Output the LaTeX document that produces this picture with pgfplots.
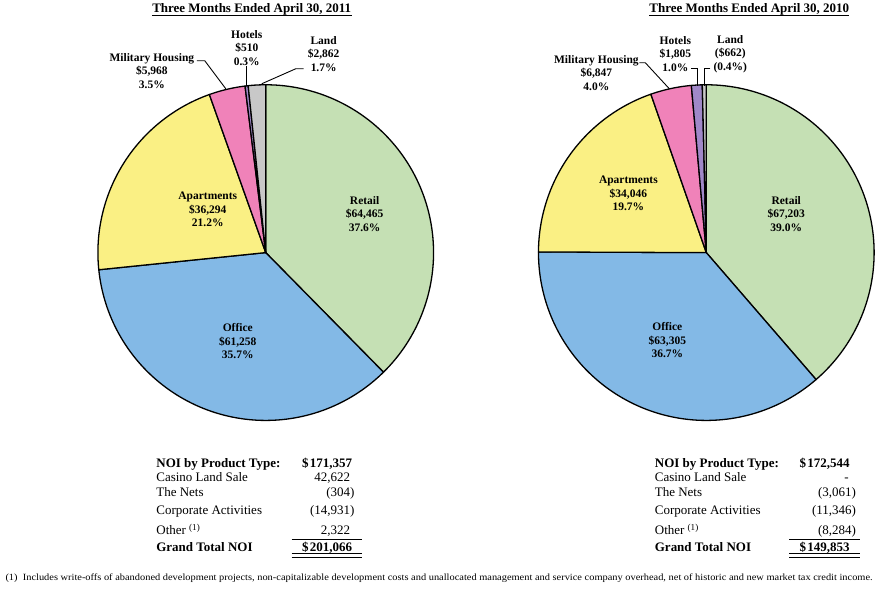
\documentclass[border=0pt]{standalone}
\usepackage{pgfplots}
\pgfplotsset{compat=1.18}
\usepackage{fontspec}
\setmainfont{Liberation Serif}
\usepackage{graphicx}

\definecolor{cRetail}{RGB}{197,224,180}
\definecolor{cOffice}{RGB}{131,185,230}
\definecolor{cApt}{RGB}{250,240,132}
\definecolor{cMil}{RGB}{240,130,185}
\definecolor{cHot}{RGB}{160,136,200}
\definecolor{cLand}{RGB}{200,200,200}

% NOI by product type, three months ended April 30, 2011
\def\LA{64465}\def\LB{61258}\def\LC{36294}\def\LD{5968}\def\LE{510}\def\LF{2862}
% NOI by product type, three months ended April 30, 2010 (Land -662 shown by magnitude)
\def\RA{67203}\def\RB{63305}\def\RC{34046}\def\RD{6847}\def\RE{1805}\def\RF{662}

\edef\LT{\fpeval{\LA+\LB+\LC+\LD+\LE+\LF}}
\edef\RT{\fpeval{\RA+\RB+\RC+\RD+\RE+\RF}}
\edef\La{\fpeval{round(90-360*\LA/\LT,3)}}
\edef\Lb{\fpeval{round(\La-360*\LB/\LT,3)}}
\edef\Lc{\fpeval{round(\Lb-360*\LC/\LT,3)}}
\edef\Ld{\fpeval{round(\Lc-360*\LD/\LT,3)}}
\edef\Le{\fpeval{round(\Ld-360*\LE/\LT,3)}}
\edef\Ra{\fpeval{round(90-360*\RA/\RT,3)}}
\edef\Rb{\fpeval{round(\Ra-360*\RB/\RT,3)}}
\edef\Rc{\fpeval{round(\Rb-360*\RC/\RT,3)}}
\edef\Rd{\fpeval{round(\Rc-360*\RD/\RT,3)}}
\edef\Re{\fpeval{round(\Rd-360*\RE/\RT,3)}}

% #1 centre x, #2 start angle, #3 end angle (smaller), #4 colour
\newcommand{\slice}[4]{%
  \addplot[draw=black, line width=1.3pt, line join=round, fill=#4,
    domain=#3:#2, samples=90, variable=\t]
    ({#1+168*cos(\t)},{250-168*sin(\t)}) -- (axis cs:#1,250) -- cycle;
}

\begin{document}
\begin{tikzpicture}
\begin{axis}[
  x=1pt, y=1pt, xmin=0, xmax=876, ymin=0, ymax=586, y dir=reverse,
  hide axis, clip=false, scale only axis,
  every node/.append style={inner sep=0pt, outer sep=0pt},
]
\addplot[draw=none] coordinates {(0,0) (876,586)};

% ---- left pie (2011)
\slice{266}{90}{\La}{cRetail}
\slice{266}{\La}{\Lb}{cOffice}
\slice{266}{\Lb}{\Lc}{cApt}
\slice{266}{\Lc}{\Ld}{cMil}
\slice{266}{\Ld}{\Le}{cHot}
\slice{266}{\Le}{-270}{cLand}
% ---- right pie (2010)
\slice{707}{90}{\Ra}{cRetail}
\slice{707}{\Ra}{\Rb}{cOffice}
\slice{707}{\Rb}{\Rc}{cApt}
\slice{707}{\Rc}{\Rd}{cMil}
\slice{707}{\Rd}{\Re}{cHot}
\slice{707}{\Re}{-270}{cLand}

% leader lines
\addplot[black, line width=0.9pt] coordinates {(197,58) (205,58) (226,86)};
\addplot[black, line width=0.9pt] coordinates {(247,63) (247,83)};
\addplot[black, line width=0.9pt] coordinates {(304,66) (296,66) (262,81)};
\addplot[black, line width=0.9pt] coordinates {(640,60) (646,60) (670,86)};
\addplot[black, line width=0.9pt] coordinates {(692,66) (698,66) (698,83)};
\addplot[black, line width=0.9pt] coordinates {(711,66) (705,66) (705,83)};

% titles
\node[font=\bfseries\fontsize{13}{15}\selectfont, anchor=base] at (axis cs:252,9.5) {Three Months Ended April 30, 2011};
\node[font=\bfseries\fontsize{13}{15}\selectfont, anchor=base] at (axis cs:750,9.5) {Three Months Ended April 30, 2010};
\draw[line width=1.2pt] (axis cs:152,12.5) -- (axis cs:352,12.5);
\draw[line width=1.2pt] (axis cs:650,12.5) -- (axis cs:850,12.5);

% slice labels
\tikzset{lab/.style={align=center, font=\bfseries\fontsize{11.5}{13.5}\selectfont}}
\node[lab] at (axis cs:365,211) {Retail\\\$64,465\\37.6\%};
\node[lab] at (axis cs:238,339) {Office\\\$61,258\\35.7\%};
\node[lab] at (axis cs:208,207) {Apartments\\\$36,294\\21.2\%};
\node[lab] at (axis cs:152,68) {Military Housing\\\$5,968\\3.5\%};
\node[lab] at (axis cs:247,45) {Hotels\\\$510\\0.3\%};
\node[lab] at (axis cs:324,51) {Land\\\$2,862\\1.7\%};

\node[lab] at (axis cs:787,211) {Retail\\\$67,203\\39.0\%};
\node[lab] at (axis cs:668,338) {Office\\\$63,305\\36.7\%};
\node[lab] at (axis cs:629,191) {Apartments\\\$34,046\\19.7\%};
\node[lab] at (axis cs:597,70) {Military Housing\\\$6,847\\4.0\%};
\node[lab] at (axis cs:676,51) {Hotels\\\$1,805\\1.0\%};
\node[lab] at (axis cs:731,51) {Land\\(\$662)\\(0.4\%)};

% tables
\tikzset{tb/.style={font=\fontsize{13}{15}\selectfont}, tbb/.style={font=\bfseries\fontsize{13}{15}\selectfont}}
% left
\node[tbb, anchor=base west] at (axis cs:153,465.5) {NOI by Product Type:};
\node[tb, anchor=base west] at (axis cs:153,479.5) {Casino Land Sale};
\node[tb, anchor=base west] at (axis cs:153,494.5) {The Nets};
\node[tb, anchor=base west] at (axis cs:153,512.5) {Corporate Activities};
\node[tb, anchor=base west] at (axis cs:153,532.5) {Other \textsuperscript{(1)}};
\node[tbb, anchor=base west] at (axis cs:153,549.5) {Grand Total NOI};
\node[tbb, anchor=base west] at (axis cs:299,465.5) {\$};
\node[tbb, anchor=base east] at (axis cs:356,465.5) {171,357};
\node[tb, anchor=base east] at (axis cs:354,479.5) {42,622};
\node[tb, anchor=base east] at (axis cs:354,494.5) {(304\rlap{)}};
\node[tb, anchor=base east] at (axis cs:354,512.5) {(14,931\rlap{)}};
\node[tb, anchor=base east] at (axis cs:354,532.5) {2,322};
\node[tbb, anchor=base west] at (axis cs:299,549.5) {\$};
\node[tbb, anchor=base east] at (axis cs:356,549.5) {201,066};
\draw[line width=1.3pt] (axis cs:292,537) -- (axis cs:362,537);
\draw[line width=1.3pt] (axis cs:292,551.5) -- (axis cs:362,551.5);
\draw[line width=1.3pt] (axis cs:292,555.5) -- (axis cs:362,555.5);
% right
\node[tbb, anchor=base west] at (axis cs:652,465.5) {NOI by Product Type:};
\node[tb, anchor=base west] at (axis cs:652,479.5) {Casino Land Sale};
\node[tb, anchor=base west] at (axis cs:652,494.5) {The Nets};
\node[tb, anchor=base west] at (axis cs:652,512.5) {Corporate Activities};
\node[tb, anchor=base west] at (axis cs:652,532.5) {Other \textsuperscript{(1)}};
\node[tbb, anchor=base west] at (axis cs:652,549.5) {Grand Total NOI};
\node[tbb, anchor=base west] at (axis cs:797,465.5) {\$};
\node[tbb, anchor=base east] at (axis cs:854,465.5) {172,544};
\node[tb, anchor=base east] at (axis cs:853,479.5) {-};
\node[tb, anchor=base east] at (axis cs:856,494.5) {(3,061\rlap{)}};
\node[tb, anchor=base east] at (axis cs:856,512.5) {(11,346\rlap{)}};
\node[tb, anchor=base east] at (axis cs:856,532.5) {(8,284\rlap{)}};
\node[tbb, anchor=base west] at (axis cs:797,549.5) {\$};
\node[tbb, anchor=base east] at (axis cs:854,549.5) {149,853};
\draw[line width=1.3pt] (axis cs:790,537) -- (axis cs:861,537);
\draw[line width=1.3pt] (axis cs:790,551.5) -- (axis cs:861,551.5);
\draw[line width=1.3pt] (axis cs:790,555.5) -- (axis cs:861,555.5);

% footnote
\node[anchor=base west, font=\fontsize{9.5}{11}\selectfont] at (axis cs:2,578.5)
  {\resizebox{868pt}{\height}{(1)\ \ Includes write-offs of abandoned development projects, non-capitalizable development costs and unallocated management and service company overhead, net of historic and new market tax credit income.}};
\end{axis}
\end{tikzpicture}
\end{document}
